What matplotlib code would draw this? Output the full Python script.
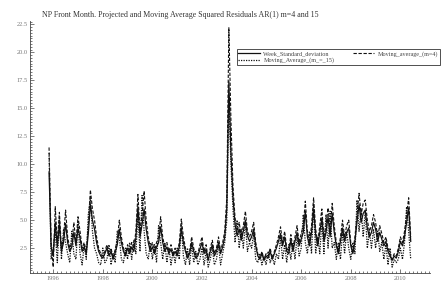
import numpy as np
import pandas as pd
import matplotlib
matplotlib.use("Agg")
import matplotlib.pyplot as plt
from matplotlib.ticker import MultipleLocator, FormatStrFormatter

# ==============================
# Data (monthly readings, Nov 1995 - Jun 2010)
# ==============================
dates = pd.date_range("1995-11-01", "2010-06-01", freq="MS")

week_std = [
    9.3, 2.6,
    1.8, 4.8, 2.6, 4.6, 2.2, 3.0, 4.7, 3.0, 2.2, 2.6, 3.9, 2.7,
    4.3, 3.4, 2.2, 2.6, 2.0, 3.8, 6.4, 5.0, 4.2, 3.0, 2.2, 1.8,
    1.6, 2.0, 2.5, 1.8, 2.2, 1.5, 2.1, 2.8, 4.2, 3.0, 2.2, 1.8,
    2.5, 2.0, 2.6, 2.2, 3.4, 6.2, 3.5, 4.6, 6.0, 4.2, 3.0, 2.2,
    2.6, 2.0, 2.6, 3.0, 4.4, 3.0, 2.2, 2.6, 2.0, 2.4, 1.8, 2.2,
    1.8, 2.6, 4.2, 3.0, 2.2, 1.6, 2.0, 3.0, 2.2, 1.6, 1.8, 2.4,
    3.0, 2.0, 2.4, 1.4, 2.2, 2.8, 1.8, 2.2, 3.0, 2.0, 2.6, 3.5,
    6.0, 17.4, 11.0, 7.0, 4.6, 3.6, 4.2, 3.2, 4.0, 5.0, 3.6, 3.1,
    3.5, 4.2, 2.7, 1.8, 1.5, 2.0, 1.4, 1.8, 1.6, 2.2, 1.5, 2.0,
    2.5, 3.1, 3.8, 2.7, 3.5, 2.2, 2.0, 3.2, 2.2, 3.1, 3.9, 2.7,
    3.3, 3.9, 5.8, 3.5, 2.7, 3.9, 6.0, 3.7, 2.7, 3.9, 5.2, 3.1,
    3.9, 5.3, 3.5, 5.6, 3.9, 2.7, 2.0, 3.1, 4.3, 3.1, 3.9, 4.3,
    2.7, 2.0, 3.1, 4.8, 6.4, 4.8, 5.6, 5.9, 4.3, 3.5, 3.9, 4.8,
    4.2, 3.1, 3.9, 3.3, 2.7, 3.1, 2.2, 1.8, 1.4, 1.8, 1.6, 2.2,
    3.1, 2.7, 3.5, 4.8, 6.1, 3.1,
]

ma_4 = [
    11.5, 3.0,
    0.8, 6.2, 3.0, 5.7, 2.5, 3.5, 5.9, 3.5, 2.5, 3.0, 4.8, 3.0,
    5.3, 4.0, 2.5, 3.0, 2.2, 4.5, 7.7, 6.0, 5.0, 3.5, 2.5, 2.0,
    1.8, 2.2, 2.8, 2.0, 2.5, 1.6, 2.4, 3.2, 5.0, 3.5, 2.5, 2.0,
    2.8, 2.2, 3.0, 2.5, 4.0, 7.3, 4.0, 5.5, 7.6, 5.0, 3.5, 2.5,
    3.0, 2.2, 3.0, 3.5, 5.3, 3.5, 2.5, 3.0, 2.2, 2.8, 2.0, 2.5,
    2.0, 3.0, 5.1, 3.5, 2.5, 1.8, 2.2, 3.5, 2.5, 1.8, 2.0, 2.8,
    3.5, 2.2, 2.8, 1.5, 2.5, 3.2, 2.0, 2.5, 3.5, 2.2, 3.0, 4.0,
    7.0, 22.2, 14.0, 8.0, 5.2, 4.0, 4.8, 3.5, 4.5, 5.8, 4.0, 3.5,
    4.0, 4.8, 3.0, 2.0, 1.6, 2.2, 1.5, 2.0, 1.8, 2.5, 1.6, 2.2,
    2.8, 3.5, 4.4, 3.0, 4.0, 2.5, 2.2, 3.7, 2.5, 3.5, 4.5, 3.0,
    3.8, 4.5, 6.7, 4.0, 3.0, 4.5, 7.0, 4.2, 3.0, 4.5, 6.0, 3.5,
    4.5, 6.1, 4.0, 6.5, 4.5, 3.0, 2.2, 3.5, 5.0, 3.5, 4.5, 5.0,
    3.0, 2.2, 3.5, 5.5, 7.4, 5.5, 6.5, 6.8, 5.0, 4.0, 4.5, 5.5,
    4.8, 3.5, 4.5, 3.8, 3.0, 3.5, 2.5, 2.0, 1.5, 2.0, 1.8, 2.5,
    3.5, 3.0, 4.0, 5.5, 7.0, 3.5,
]

ma_15 = [
    11.0, 1.5,
    2.5, 4.0, 1.2, 5.2, 1.5, 4.2, 3.0, 2.0, 1.2, 4.0, 2.0, 1.5,
    4.8, 2.0, 1.0, 2.8, 1.5, 5.5, 7.0, 4.0, 2.5, 2.0, 1.2, 1.0,
    2.5, 1.2, 1.5, 2.8, 1.0, 2.0, 1.2, 4.0, 3.5, 1.5, 1.2, 2.5,
    1.5, 3.0, 1.5, 3.2, 2.0, 5.5, 2.2, 7.2, 4.0, 2.0, 1.5, 3.0,
    1.5, 2.8, 1.2, 4.5, 3.0, 1.5, 3.0, 1.2, 2.5, 1.0, 2.2, 1.2,
    2.5, 1.5, 4.5, 1.8, 1.0, 2.5, 1.0, 2.8, 1.2, 2.2, 1.0, 1.5,
    2.5, 1.0, 2.2, 0.8, 1.5, 2.5, 1.0, 1.5, 2.8, 1.0, 2.0, 3.0,
    5.0, 16.0, 10.0, 6.0, 3.0, 5.0, 2.5, 4.2, 2.5, 4.8, 2.2, 3.0,
    2.5, 3.8, 1.5, 1.2, 2.0, 1.0, 1.8, 1.0, 2.2, 1.2, 1.8, 1.0,
    2.0, 1.5, 3.5, 1.5, 2.8, 1.2, 2.8, 1.5, 3.0, 1.5, 3.5, 1.8,
    2.5, 5.5, 3.0, 2.0, 4.0, 2.0, 6.5, 2.0, 3.5, 2.0, 5.0, 2.0,
    5.5, 2.5, 5.8, 2.5, 3.0, 1.5, 3.0, 1.5, 4.0, 2.0, 4.0, 2.5,
    1.5, 3.0, 2.0, 6.8, 4.0, 6.0, 3.5, 5.8, 2.5, 4.0, 2.5, 4.2,
    2.5, 4.0, 2.2, 3.0, 1.5, 2.8, 1.0, 2.5, 0.8, 1.5, 1.2, 1.5,
    2.5, 1.5, 3.0, 6.2, 4.0, 1.5,
]

year_ticks = [1996, 1998, 2000, 2002, 2004, 2006, 2008, 2010]
title = "NP Front Month. Projected and Moving Average Squared Residuals AR(1) m=4 and 15"

# decimal years for the x axis
x = dates.year + (dates.month - 1) / 12.0

plt.rcParams["font.family"] = ["Liberation Serif", "DejaVu Serif"]

fig = plt.figure(figsize=(4.43, 2.85), dpi=100)
ax = fig.add_axes([0.068, 0.042, 0.903, 0.884])

l1, = ax.plot(x, week_std, color="#111111", lw=0.9, ls="-")
l3, = ax.plot(x, ma_15, color="#111111", lw=0.9, ls=(0, (1, 1)))
l2, = ax.plot(x, ma_4, color="#111111", lw=0.8, ls=(0, (3, 1.5)))

ax.set_xlim(1995.07, 2011.2)
ax.set_ylim(0.27, 22.8)

ax.set_xticks(year_ticks)
ax.set_xticklabels([str(y) for y in year_ticks])
ax.xaxis.set_minor_locator(MultipleLocator(1 / 6))
ax.yaxis.set_major_locator(MultipleLocator(2.5))
ax.yaxis.set_major_formatter(FormatStrFormatter("%.1f"))
ax.yaxis.set_minor_locator(MultipleLocator(0.25))

ax.tick_params(which="both", direction="in", colors="#444444", labelsize=4.6,
               width=0.5, labelcolor="#777777")
ax.tick_params(which="major", length=3, pad=2)
ax.tick_params(which="minor", length=1.5)

for side in ["top", "right"]:
    ax.spines[side].set_visible(False)
for side in ["left", "bottom"]:
    ax.spines[side].set_linewidth(0.6)
    ax.spines[side].set_color("#444444")

fig.text(0.095, 0.947, title, fontsize=5.7, color="#333333", ha="left", va="center")

leg = fig.legend([l1, l3, l2],
                 ["Week_Standard_deviation", "Moving_Average_(m_=_15)",
                  "Moving_average_(m=4)"],
                 ncol=2, loc="upper right", bbox_to_anchor=(0.993, 0.828),
                 fontsize=4.4, frameon=True, fancybox=False, handlelength=3.5,
                 columnspacing=3.0, borderpad=0.3, labelspacing=0.2,
                 handletextpad=0.6, borderaxespad=0)
leg.get_frame().set_edgecolor("black")
leg.get_frame().set_linewidth(0.6)
for t in leg.get_texts():
    t.set_color("#444444")

fig.savefig("out.png", dpi=100)
